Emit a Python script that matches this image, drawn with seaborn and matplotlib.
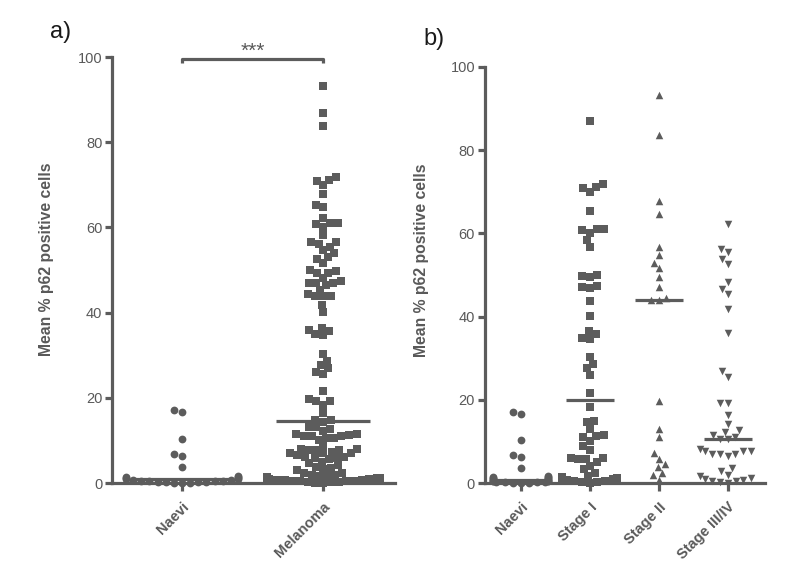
import numpy as np
import pandas as pd
import seaborn as sns
import matplotlib
matplotlib.use("Agg")
import matplotlib.pyplot as plt

sns.set_style("white")
plt.rcParams['font.family'] = ['Liberation Sans', 'DejaVu Sans']

# ---- data ----
naevi = [17.1, 16.7, 10.3, 6.8, 6.3, 3.7,
         1.6, 1.5, 1.4, 1.3, 1.2, 1.0, 0.9, 0.8, 0.7, 0.6, 0.5, 0.5,
         0.4, 0.3, 0.3, 0.2, 0.2, 0.1, 0.1, 0.0]
stage_1 = [86.9, 71.1, 70.0, 71.0, 71.9, 65.3, 61.0, 60.2, 60.7, 61.1, 58.3, 56.7,
           50.0, 49.4, 49.8, 47.0, 46.9, 47.4, 43.8, 40.1, 35.8, 34.7, 34.9, 36.5,
           30.4, 28.7, 27.6, 26.0, 21.7, 18.3, 14.7, 14.8, 13.1, 11.5, 11.0, 11.2,
           10.2, 8.8, 7.9, 6.1, 5.9, 6.1, 5.7, 5.0, 4.2, 3.3, 2.3,
           1.8, 1.5, 1.3, 1.1, 1.0, 0.8, 0.6, 0.5, 0.3, 0.2, 0.1]
stage_2 = [93.3, 83.7, 67.9, 64.7, 56.7, 54.8, 53.0, 51.6, 49.4, 47.0, 44.4, 44.0,
           44.0, 19.8, 13.1, 11.0, 7.3, 5.9, 4.7, 3.8, 2.3, 1.9, 0.7]
stage_34 = [62.2, 56.2, 55.5, 53.9, 52.6, 48.2, 46.6, 45.4, 41.8, 36.0, 26.9, 25.6,
            19.2, 19.2, 16.4, 14.3, 12.7, 12.2, 11.5, 11.1, 10.5, 10.5,
            8.1, 7.7, 7.7, 7.7, 7.0, 7.0, 7.0, 6.5, 3.5, 3.0,
            2.0, 1.6, 1.3, 1.0, 0.8, 0.6, 0.4, 0.2, 0.1]
melanoma = stage_1 + stage_2 + stage_34

cats_a = ["Naevi", "Melanoma"]
cats_b = ["Naevi", "Stage I", "Stage II", "Stage III/IV"]
yticks = [0, 20, 40, 60, 80, 100]
ylabel = "Mean % p62 positive cells"
sig_text = "***"

GREY = "#5c5c5c"
TXT = "#595959"
LW = 2.3

fig = plt.figure(figsize=(8.0, 5.82), dpi=100)
ax_a = fig.add_axes([0.140, 0.170, 0.354, 0.732])
ax_b = fig.add_axes([0.606, 0.170, 0.350, 0.715])


def style(ax, cats, xlim):
    ax.set_xlim(*xlim)
    ax.set_ylim(0, 100)
    for s in ["top", "right"]:
        ax.spines[s].set_visible(False)
    for s in ["left", "bottom"]:
        ax.spines[s].set_color(GREY)
        ax.spines[s].set_linewidth(LW)
        ax.spines[s].set_zorder(1)
    ax.set_yticks(yticks)
    ax.set_yticklabels([str(t) for t in yticks], fontsize=10.5, color=TXT)
    ax.set_xticks(range(len(cats)))
    ax.set_xticklabels(cats, rotation=45, ha="right", rotation_mode="anchor",
                       fontsize=10.5, fontweight="bold", color=TXT)
    ax.tick_params(axis="y", length=5, width=LW, color=GREY, pad=2, left=True)
    ax.tick_params(axis="x", length=6, width=LW, color=GREY, pad=6, bottom=True)
    ax.set_xlabel("")
    ax.set_ylabel(ylabel, fontsize=11.3, fontweight="bold", color=TXT)


def swarm(ax, cat, vals, order, marker, size):
    sns.swarmplot(x=[cat] * len(vals), y=vals, order=order, marker=marker,
                  color=GREY, size=size, linewidth=0, ax=ax, clip_on=False,
                  zorder=3, warn_thresh=1.0)


def median_line(ax, order, cat, vals, half):
    i = order.index(cat)
    ax.hlines(np.median(vals), i - half, i + half, color=GREY, lw=LW, zorder=4,
              clip_on=False)


# ---- panel a ----
swarm(ax_a, "Naevi", naevi, cats_a, "o", 5.6)
swarm(ax_a, "Melanoma", melanoma, cats_a, "s", 5.3)
median_line(ax_a, cats_a, "Naevi", naevi, 0.33)
median_line(ax_a, cats_a, "Melanoma", melanoma, 0.335)
style(ax_a, cats_a, (-0.496, 1.511))
ax_a.yaxis.set_label_coords(-0.205, 0.525)

# significance bracket
ax_a.plot([0, 0, 1, 1], [98.6, 99.5, 99.5, 98.6], color=GREY, lw=LW,
          clip_on=False, solid_capstyle="butt")
ax_a.text(0.5, 99.0, sig_text, ha="center", va="bottom", fontsize=15,
          color=TXT)

# ---- panel b ----
swarm(ax_b, "Naevi", naevi, cats_b, "o", 5.6)
swarm(ax_b, "Stage I", stage_1, cats_b, "s", 5.3)
swarm(ax_b, "Stage II", stage_2, cats_b, "^", 5.4)
swarm(ax_b, "Stage III/IV", stage_34, cats_b, "v", 5.4)
for c, v in zip(cats_b, [naevi, stage_1, stage_2, stage_34]):
    median_line(ax_b, cats_b, c, v, 0.35)
style(ax_b, cats_b, (-0.522, 3.536))
ax_b.yaxis.set_label_coords(-0.20, 0.535)

fig.text(0.063, 0.935, "a)", fontsize=17, color="#1a1a1a")
fig.text(0.529, 0.922, "b)", fontsize=17, color="#1a1a1a")

fig.savefig("out.png", dpi=100)
